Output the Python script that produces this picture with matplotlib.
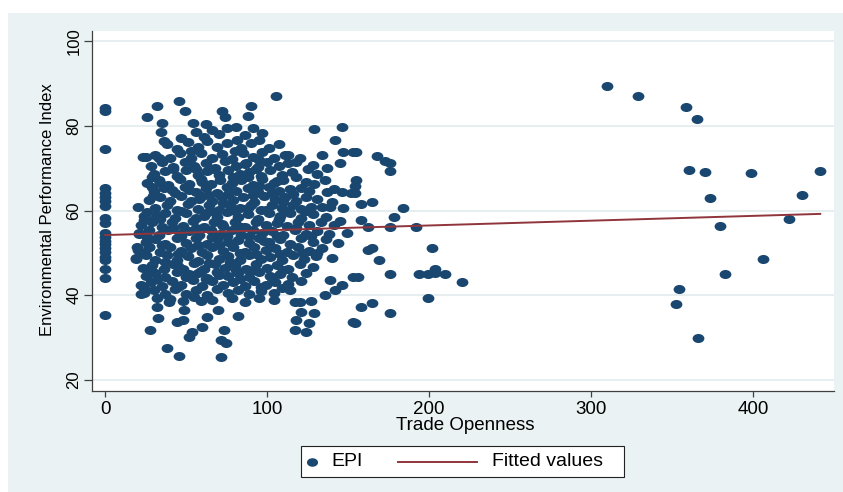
import matplotlib.pyplot as plt
import numpy as np
from matplotlib.path import Path
from matplotlib.transforms import Affine2D
from matplotlib.patches import Rectangle
from matplotlib.lines import Line2D

plt.rcParams['font.family'] = ['Liberation Sans', 'DejaVu Sans']

# countries with zero trade openness
zero_open_epi = [84.1, 83.4, 74.5, 65.2, 64.2, 63.2, 62.2, 61.0, 58.2, 57.0, 54.7,
                 53.8, 52.9, 52.0, 51.1, 50.2, 49.0, 48.2, 46.2, 44.0, 35.4]

# main cloud (trade openness, EPI)
core_pts = [
    (38, 75.8), (44, 74.6), (51, 76.2), (57, 74.9), (63, 76.4), (69, 75.1), (75, 76.0),
    (84, 74.8), (90, 75.9), (101, 74.7), (107, 75.6), (61, 77.4), (47, 77.1),
    (25, 72.6), (31, 73.2), (40, 72.3), (46, 73.5), (53, 72.4), (59, 73.6), (66, 72.5),
    (72, 73.4), (78, 72.2), (85, 73.5), (91, 72.6), (97, 73.7), (104, 72.4), (113, 73.0),
    (120, 72.3),
    (28, 70.6), (35, 71.4), (42, 70.3), (49, 71.5), (55, 70.4), (62, 71.2), (68, 70.1),
    (74, 71.6), (81, 70.5), (87, 71.3), (94, 70.2), (100, 71.5), (107, 70.4), (113, 71.2),
    (128, 70.8),
    (30, 68.7), (37, 69.3), (44, 68.2), (50, 69.6), (57, 68.5), (63, 69.4), (70, 68.3),
    (76, 69.5), (83, 68.6), (89, 69.2), (96, 68.1), (102, 69.6), (109, 68.4), (115, 69.1),
    (131, 68.6),
    (26, 66.5), (33, 67.2), (39, 66.1), (46, 67.4), (52, 66.3), (59, 67.5), (65, 66.2),
    (71, 67.3), (78, 66.4), (84, 67.1), (91, 66.0), (97, 67.4), (104, 66.6), (110, 67.2),
    (124, 66.8), (129, 66.2),
    (30, 64.6), (36, 65.3), (43, 64.2), (49, 65.6), (56, 64.4), (62, 65.2), (69, 64.1),
    (75, 65.5), (81, 64.5), (88, 65.3), (94, 64.3), (101, 65.6), (107, 64.5), (114, 65.1),
    (126, 64.6), (141, 65.0),
    (27, 62.4), (34, 63.1), (40, 62.2), (47, 63.4), (53, 62.3), (60, 63.5), (66, 62.2),
    (72, 63.3), (79, 62.5), (85, 63.2), (92, 62.1), (98, 63.4), (105, 62.6), (111, 63.1),
    (118, 62.3), (124, 63.2), (131, 62.7), (140, 62.1),
    (31, 60.5), (38, 61.3), (44, 60.2), (51, 61.5), (57, 60.4), (64, 61.2), (70, 60.1),
    (77, 61.4), (83, 60.6), (90, 61.3), (96, 60.2), (103, 61.4), (109, 60.5), (116, 61.2),
    (121, 60.3), (139, 60.9),
    (24, 58.6), (30, 58.1), (37, 59.4), (43, 58.3), (50, 59.5), (56, 58.2), (62, 59.3),
    (69, 58.4), (75, 59.6), (82, 58.5), (88, 59.2), (94, 58.1), (101, 59.4), (108, 58.6),
    (114, 59.3), (121, 58.2), (128, 59.1), (136, 58.4),
    (22, 56.5), (29, 57.2), (35, 56.1), (41, 57.4), (48, 56.3), (54, 57.5), (61, 56.2),
    (67, 57.3), (73, 56.4), (80, 57.2), (86, 56.1), (93, 57.4), (99, 56.5), (106, 57.1),
    (112, 56.3), (119, 57.2), (126, 56.5), (133, 57.3), (141, 56.6),
    (21, 54.6), (27, 55.3), (33, 54.2), (39, 55.5), (46, 54.4), (52, 55.2), (58, 54.1),
    (65, 55.4), (71, 54.5), (78, 55.3), (84, 54.3), (91, 55.5), (97, 54.6), (103, 55.2),
    (110, 54.2), (117, 55.4), (124, 54.5), (131, 55.1), (138, 54.4), (149, 54.8),
    (25, 52.5), (31, 53.2), (37, 52.1), (44, 53.4), (50, 52.4), (56, 53.5), (63, 52.2),
    (69, 53.3), (76, 52.6), (82, 53.1), (89, 52.3), (95, 53.4), (101, 52.5), (108, 53.2),
    (114, 52.1), (121, 53.5), (128, 52.6), (136, 53.2), (144, 52.4),
    (20, 50.6), (27, 51.3), (34, 50.2), (40, 51.5), (47, 50.4), (53, 51.2), (60, 50.1),
    (66, 51.4), (73, 50.5), (79, 51.3), (86, 50.2), (92, 51.4), (99, 50.6), (105, 51.1),
    (112, 50.3), (119, 51.5), (126, 50.4), (134, 51.2),
    (19, 48.6), (25, 49.4), (31, 48.2), (38, 49.5), (44, 48.4), (51, 49.3), (57, 48.1),
    (63, 49.6), (70, 48.5), (76, 49.2), (83, 48.3), (89, 49.5), (96, 48.6), (102, 49.1),
    (109, 48.2), (116, 49.4), (123, 48.5), (130, 49.2), (140, 48.7),
    (23, 46.5), (29, 47.2), (36, 46.1), (42, 47.4), (48, 46.3), (55, 47.5), (61, 46.2),
    (68, 47.3), (74, 46.4), (80, 47.2), (87, 46.1), (93, 47.4), (100, 46.5), (106, 47.1),
    (113, 46.3), (120, 47.3), (128, 46.6),
    (25, 44.6), (31, 45.3), (37, 44.2), (44, 45.5), (50, 44.4), (57, 45.2), (63, 44.1),
    (69, 45.4), (76, 44.5), (82, 45.3), (89, 44.2), (95, 45.5), (102, 44.6), (108, 45.1),
    (115, 44.3), (124, 45.2),
    (22, 42.5), (28, 43.2), (35, 42.1), (41, 43.4), (47, 42.3), (54, 43.5), (60, 42.2),
    (66, 43.3), (73, 42.4), (79, 43.2), (86, 42.1), (92, 43.4), (99, 42.5), (105, 43.1),
    (113, 42.6), (121, 43.3),
    (24, 40.6), (30, 41.3), (37, 40.2), (43, 41.5), (50, 40.4), (56, 41.2), (63, 40.1),
    (69, 41.4), (76, 40.5), (82, 41.3), (89, 40.2), (96, 41.1), (104, 40.6), (114, 41.2),
    (40, 39.2), (48, 38.6), (55, 39.5), (66, 38.8), (78, 39.4), (86, 38.5), (95, 39.3),
    (104, 38.9),
    # in-between countries that fill the densest part
    (34, 57.9), (58, 62.8), (72, 56.9), (88, 60.7), (45, 49.8), (64, 47.7), (81, 45.9),
    (98, 52.7), (110, 62.0), (56, 69.8), (79, 67.9), (41, 64.9), (66, 53.8), (93, 49.8),
    (52, 44.9), (118, 55.9), (103, 44.0), (73, 61.8), (86, 70.9), (61, 58.8), (47, 53.9),
    (95, 65.9), (70, 44.8), (37, 47.8), (107, 58.0), (84, 56.0), (60, 66.8), (122, 50.0),
    (29, 65.5), (52, 64.9), (64, 63.6), (76, 63.9), (91, 63.7), (103, 64.1), (116, 63.9),
    (26, 59.7), (47, 60.0), (65, 59.9), (80, 59.9), (99, 60.1), (112, 59.9), (124, 60.0),
    (26, 53.8), (42, 55.8), (56, 55.9), (75, 53.9), (89, 54.0), (106, 53.9), (127, 53.9),
    (23, 49.9), (35, 51.9), (57, 51.8), (70, 51.9), (83, 49.9), (108, 49.8), (131, 50.0),
    (28, 45.9), (45, 47.0), (59, 45.6), (77, 47.9), (91, 46.0), (110, 46.0),
    (32, 43.8), (45, 41.9), (62, 43.8), (83, 43.8), (96, 42.0), (109, 41.8),
    (42, 69.9), (67, 69.7), (93, 69.8), (106, 67.0), (34, 66.6), (88, 67.9), (53, 74.0),
    (80, 74.1), (95, 72.0),
]

# scattered points around the main cloud
fringe_pts = [
    (45.8, 85.8), (32, 84.7), (26, 82.0), (49, 83.5), (35, 80.6), (54, 80.6), (34.6, 78.5),
    (36.5, 76.4), (23.5, 72.6), (33, 72.4), (29, 68.0), (29.7, 63.4), (20, 60.8),
    (24, 57.8), (32, 59.0), (72, 83.5), (74, 82.0), (62, 80.5), (66, 79.0), (75, 79.5),
    (56, 78.5), (70, 78.0),
    (105.7, 87.0), (89.7, 84.7), (88.4, 82.3), (129, 79.2), (146, 79.7), (81, 79.7),
    (91, 79.5), (86, 77.8), (97, 78.3), (95, 76.6), (81.6, 76.6), (141.6, 76.6),
    (133.6, 73.0), (146.6, 73.8), (152.7, 73.8), (110.7, 73.0), (118, 71.4), (125, 69.8),
    (137, 70.0), (135.4, 67.2), (144.7, 71.2), (118, 68.0), (137, 64.4), (146, 64.4),
    (152, 64.1), (121, 65.3), (127, 60.8), (133.6, 60.8), (146.6, 60.6), (145, 57.5),
    (155, 73.8), (167.6, 72.9), (172.5, 71.7), (175.6, 71.2), (176, 69.3), (155, 67.2),
    (154, 65.8), (154, 64.1), (157.7, 61.5), (165, 62.0), (184, 60.6), (178, 58.5),
    (158, 57.8), (162, 56.1), (176, 56.1), (192, 56.1), (162, 50.7), (165, 51.2),
    (168.8, 48.3), (155.8, 44.3), (176, 45.0), (193.5, 45.0), (199, 45.0), (203.5, 45.3),
    (203.5, 46.2), (210, 45.0), (220, 43.1), (201.6, 51.2), (199, 39.4), (157.7, 37.2),
    (164.5, 38.2), (176, 35.8), (154, 33.5), (152.7, 44.3), (152.7, 33.7), (138.5, 43.6),
    (146, 42.4), (141.6, 41.2), (135.4, 40.0),
    (117, 38.4), (120, 38.4), (127, 38.6), (121, 36.0), (129, 35.8), (118, 34.2),
    (126, 33.5), (117, 31.8), (124, 31.3), (82, 35.1), (74.8, 28.7), (71.7, 25.4),
    (21, 54.5), (19.8, 51.4), (27, 51.4), (19, 48.8), (22.3, 40.3), (32, 37.2),
    (32.8, 34.6), (27.8, 31.8), (38.3, 27.6), (45.8, 25.7), (44.5, 33.7), (48.2, 34.2),
    (53.8, 31.3), (52, 30.2), (59.4, 38.6), (48.9, 36.5), (39.6, 38.4), (32, 39.3),
    (24, 41.7), (63, 34.9), (60, 32.5), (73.6, 31.8), (71.7, 29.4), (69.3, 36.5),
]

# very open economies on the right
high_open_pts = [
    (310, 89.4), (328.8, 87.0), (358.7, 84.4), (365.3, 81.7), (360.7, 69.6), (370.4, 69.1),
    (398.7, 68.9), (441.5, 69.3), (373.3, 63.0), (430.2, 63.6), (379.3, 56.4), (422.4, 58.0),
    (406, 48.6), (382.4, 45.0), (354, 41.4), (352.5, 37.9), (365.9, 29.8),
]

# linear fit endpoints
fit_x = [0, 441.5]
fit_y = [54.2, 59.2]

pts = core_pts + fringe_pts + high_open_pts
openness = np.array([0.0] * len(zero_open_epi) + [p[0] for p in pts])
epi = np.array(zero_open_epi + [p[1] for p in pts])

navy = '#1A476F'
maroon = '#90353B'

fig = plt.figure(figsize=(8.43, 4.92), dpi=100)
fig.patch.set_facecolor('white')
fig.patches.append(Rectangle((7.5 / 843, 0), 1 - 7.5 / 843, 1 - 12.7 / 492,
                             transform=fig.transFigure, facecolor='#EAF2F3',
                             edgecolor='none', zorder=-10))

ax = fig.add_axes([92 / 843, 1 - 390.5 / 492, 742 / 843, 360 / 492])
ax.set_facecolor('white')

# slightly wide oval dots
dot = Path.unit_circle().transformed(Affine2D().scale(1.3, 1.0))

ax.scatter(openness, epi, marker=dot, s=72, color=navy, linewidths=0, zorder=3)
ax.plot(fit_x, fit_y, color=maroon, lw=1.4, zorder=4)

ax.set_xlim(-8.2, 450)
ax.set_ylim(17.5, 102.5)
ax.set_xticks([0, 100, 200, 300, 400])
ax.set_yticks([20, 40, 60, 80, 100])
ax.grid(axis='y', color='#E4EDEE', lw=1.3)
ax.set_axisbelow(True)

for s in ['top', 'right']:
    ax.spines[s].set_visible(False)
for s in ['left', 'bottom']:
    ax.spines[s].set_color('#404040')
    ax.spines[s].set_linewidth(0.9)

ax.tick_params(axis='x', length=4, width=0.9, color='#404040', pad=3.5, labelsize=13.5)
ax.tick_params(axis='y', length=6, width=0.9, color='#404040', pad=1.6, labelsize=12)
for lab in ax.get_yticklabels():
    lab.set_rotation(90)
    lab.set_va('center')

ax.set_xlabel('Trade Openness', fontsize=13.5)
ax.xaxis.set_label_coords(0.503, -0.074)
ax.set_ylabel('Environmental Performance Index', fontsize=12)
ax.yaxis.set_label_coords(-0.05, 0.503)

# legend box below the plot
fig.patches.append(Rectangle((300.7 / 843, 1 - 477.3 / 492), 323.6 / 843, 31.6 / 492,
                             transform=fig.transFigure, facecolor='white',
                             edgecolor='#222222', lw=0.8, zorder=5))
ly = 1 - 461.5 / 492
fig.lines.append(Line2D([312.3 / 843], [ly], marker=dot, markersize=8, color=navy,
                        markeredgewidth=0, linestyle='none', transform=fig.transFigure, zorder=6))
fig.text(331.7 / 843, ly, 'EPI', fontsize=14, va='center', ha='left', zorder=6)
fig.lines.append(Line2D([398.3 / 843, 477.3 / 843], [ly, ly], color=maroon, lw=1.4,
                        transform=fig.transFigure, zorder=6))
fig.text(491.7 / 843, ly, 'Fitted values', fontsize=14, va='center', ha='left', zorder=6)

fig.savefig('out.png', dpi=100, facecolor=fig.get_facecolor())
